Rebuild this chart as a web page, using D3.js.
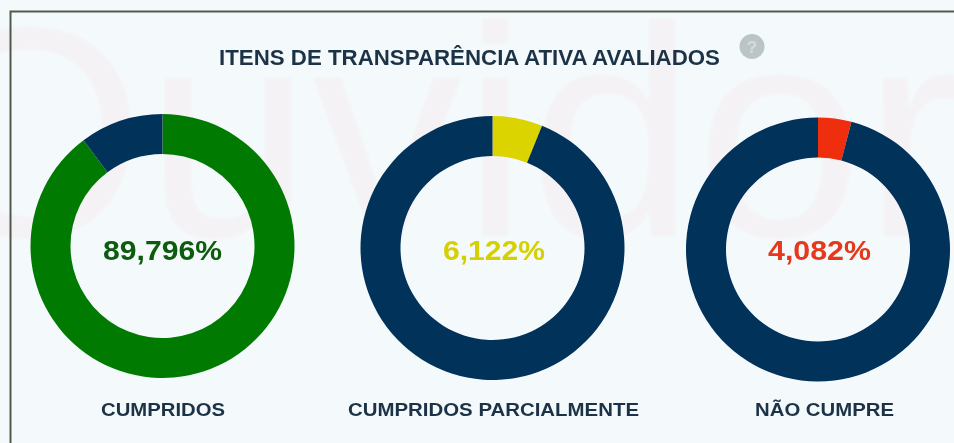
<!DOCTYPE html>
<html><head><meta charset="utf-8">
<script src="https://cdn.jsdelivr.net/npm/d3@7"></script>
<style>html,body{margin:0;padding:0;background:#f4fafc;overflow:hidden}svg{display:block}text{font-family:"Liberation Sans",Arial,sans-serif}</style>
</head><body><svg id="c" width="954" height="443"></svg>
<script>
const titleText = "ITENS DE TRANSPARÊNCIA ATIVA AVALIADOS";
const categories = ["CUMPRIDOS","CUMPRIDOS PARCIALMENTE","NÃO CUMPRE"];
const shares = [89.796, 6.122, 4.082];
const shareLabels = ["89,796%","6,122%","4,082%"];
const sliceColors = ["#067a06","#dcd400","#ee2e0c"];
const labelColors = ["#0f5c0f","#d6d000","#e6391a"];
const restColor = "#04305a";
const centersX = [162.5,492.5,818];
const centersY = [246,248,249.5];
const pctX = [162.5,494,819.5];
const pctW = [119,102,103];
const labelX = [163,493.5,824.5];
const labelW = [124,291,139];
const watermark = [{t:"Ouvidor",x:-88,y:236,s:300}];

const svg = d3.select("#c");
const defs = svg.append("defs");
defs.append("filter").attr("id","soft").append("feGaussianBlur").attr("stdDeviation",0.6);
defs.append("filter").attr("id","softer").append("feGaussianBlur").attr("stdDeviation",1.5);

const root = svg.append("g").attr("filter","url(#soft)");
root.append("g").attr("filter","url(#softer)").selectAll("text").data(watermark).join("text")
  .attr("x",d=>d.x).attr("y",d=>d.y).attr("font-size",d=>d.s).attr("fill","#f4f2f5").text(d=>d.t);

root.append("path").attr("d","M10.5,443V11.5H954").attr("fill","none").attr("stroke","#4f5a4c").attr("stroke-width",2);

root.append("text").attr("x",219).attr("y",65).attr("font-size",21.5).attr("font-weight","bold")
  .attr("fill","#1d3346").attr("textLength",501).attr("lengthAdjust","spacingAndGlyphs").text(titleText);
root.append("circle").attr("cx",752).attr("cy",46.5).attr("r",12.5).attr("fill","#bcc5c6");
root.append("text").attr("x",752).attr("y",52.5).attr("text-anchor","middle").attr("font-size",17).attr("font-weight","bold").attr("fill","#d5dcdd").text("?");

const pie = d3.pie().sort(null).value(d=>d);
const arc = d3.arc().innerRadius(92).outerRadius(132);
categories.forEach((cat,i)=>{
  const g = root.append("g").attr("transform",`translate(${centersX[i]},${centersY[i]})`);
  g.selectAll("path").data(pie([shares[i],100-shares[i]])).join("path")
    .attr("d",arc).attr("fill",(d,j)=>j===0?sliceColors[i]:restColor);
  root.append("text").attr("x",pctX[i]-pctW[i]/2).attr("y",260)
    .attr("font-size",28).attr("font-weight","bold").attr("fill",labelColors[i])
    .attr("textLength",pctW[i]).attr("lengthAdjust","spacingAndGlyphs").text(shareLabels[i]);
  root.append("text").attr("x",labelX[i]-labelW[i]/2).attr("y",416)
    .attr("font-size",19).attr("font-weight","bold").attr("fill","#1d3346")
    .attr("textLength",labelW[i]).attr("lengthAdjust","spacingAndGlyphs").text(cat);
});
</script></body></html>
